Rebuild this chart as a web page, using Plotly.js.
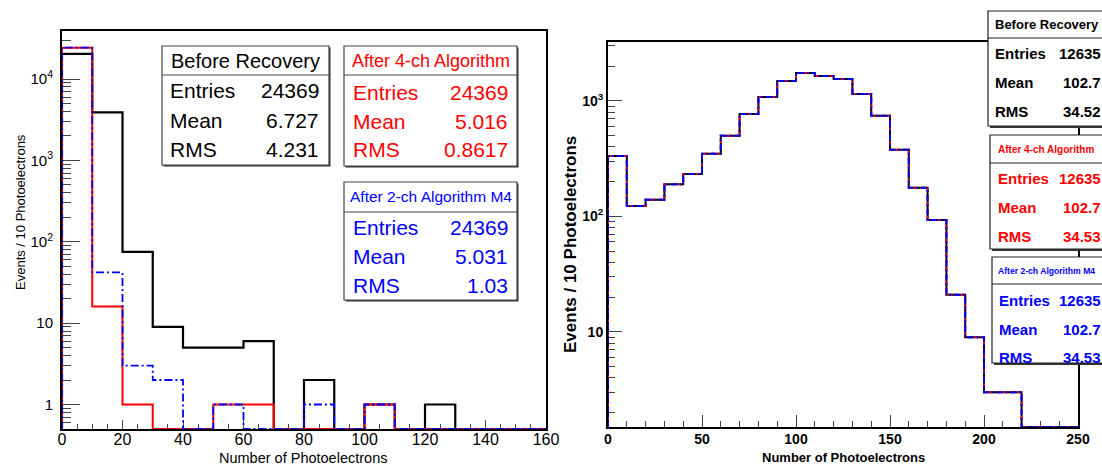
<!DOCTYPE html>
<html><head><meta charset="utf-8">
<script src="https://cdn.plot.ly/plotly-3.0.1.min.js"></script>
<style>html,body{margin:0;padding:0;background:#fff}</style>
</head><body><div id="chart" style="width:1102px;height:465px"></div>
<script>
// ---------- data ----------
const leftEdges = [0,10,20,30,40,50,60,70,80,90,100,110,120,130,140,150,160];
const leftBefore = [20360,3900,75,9,5,5,6,0,2,0,1,0,1,0,0,0];
const left4ch    = [24349,16,1,0,0,1,1,0,0,0,1,0,0,0,0,0];
const left2chM4  = [24319,42,3,2,0,1,0,0,1,0,1,0,0,0,0,0];

const rightEdges = [0,10,20,30,40,50,60,70,80,90,100,110,120,130,140,150,160,170,180,190,200,210,220,230,240,250];
const rightBefore = [334,123,139,190,233,348,498,771,1083,1490,1747,1645,1550,1150,742,377,177,93,21,9,3,3,0,0,0];
const right4ch    = [334,123,139,190,233,348,498,771,1083,1490,1747,1645,1550,1150,742,377,177,93,21,9,3,3,0,0,0];
const right2chM4  = [334,123,139,190,233,348,498,771,1083,1490,1747,1645,1550,1150,742,377,177,93,21,9,3,3,0,0,0];

const leftXTicks = [0,20,40,60,80,100,120,140,160];
const leftYTickVals = [1,10,100,1000,10000];
const leftYTickText = ['1','10','10<sup>2</sup>','10<sup>3</sup>','10<sup>4</sup>'];
const rightXTicks = [0,50,100,150,200,250];
const rightYTickVals = [10,100,1000];
const rightYTickText = ['10','10<sup>2</sup>','10<sup>3</sup>'];

const statLabels = ['Entries','Mean','RMS'];
const leftStatTitles = ['Before Recovery','After 4-ch Algorithm','After 2-ch Algorithm M4'];
const leftStatValues = [['24369','6.727','4.231'],['24369','5.016','0.8617'],['24369','5.031','1.03']];
const rightStatTitles = ['Before Recovery','After 4-ch Algorithm','After 2-ch Algorithm M4'];
const rightStatValues = [['12635','102.7','34.52'],['12635','102.7','34.53'],['12635','102.7','34.53']];

const xTitle = 'Number of Photoelectrons';
const yTitle = 'Events / 10 Photoelectrons';

// ---------- helpers ----------
const W = 1102, H = 465;
const fx = x => x / W;
const fy = y => 1 - y / H;
const FONT = 'Liberation Sans, Arial, Helvetica, sans-serif';
const RED = '#ff0000', BLUE = '#0000ff', BLACK = '#000000';

const leftRange = [Math.log10(0.5), Math.log10(39000)];
const rightRange = [Math.log10(1.5), 3.51];
const leftFloor = Math.pow(10, leftRange[0]);
const rightFloor = Math.pow(10, rightRange[0]);

function stepTrace(edges, vals, floor, xa, ya, color, width, dash) {
  const ys = vals.map(v => v > 0 ? v : floor);
  return {
    type: 'scatter', mode: 'lines', xaxis: xa, yaxis: ya,
    x: [edges[0]].concat(edges),
    y: [floor].concat(ys).concat([floor]),
    line: {shape: 'hv', color: color, width: width, dash: dash},
    hoverinfo: 'skip'
  };
}

function minorLog(lo, hi) {
  const out = [];
  for (let d = lo; d <= hi; d++) for (let k = 2; k <= 9; k++) out.push(k * Math.pow(10, d));
  return out;
}

const traces = [
  stepTrace(leftEdges, leftBefore, leftFloor, 'x', 'y', BLACK, 2.2, 'solid'),
  stepTrace(leftEdges, left4ch, leftFloor, 'x', 'y', RED, 2, 'solid'),
  stepTrace(leftEdges, left2chM4, leftFloor, 'x', 'y', BLUE, 1.8, '8px,3px,2px,3px'),
  stepTrace(rightEdges, rightBefore, rightFloor, 'x2', 'y2', BLACK, 2, 'solid'),
  stepTrace(rightEdges, right4ch, rightFloor, 'x2', 'y2', RED, 2, '4px,3px'),
  stepTrace(rightEdges, right2chM4, rightFloor, 'x2', 'y2', BLUE, 2, '6px,3px,2px,3px')
];

const axisCommon = {
  showline: true, linecolor: BLACK, linewidth: 2, mirror: true,
  showgrid: false, zeroline: false, ticks: 'inside', tickcolor: '#444', tickwidth: 1,
  layer: 'below traces', fixedrange: true
};

const layout = {
  width: W, height: H, margin: {l: 0, r: 0, t: 0, b: 0},
  paper_bgcolor: '#fff', plot_bgcolor: '#fff', showlegend: false,
  font: {family: FONT, color: BLACK},
  xaxis: Object.assign({}, axisCommon, {
    domain: [fx(62), fx(546)], range: [0, 160], anchor: 'y',
    tickmode: 'array', tickvals: leftXTicks, ticklen: 9, ticklabelstandoff: -5,
    tickfont: {family: FONT, size: 16, color: BLACK},
    minor: {ticks: 'inside', dtick: 5, tick0: 0, ticklen: 5, tickcolor: '#444', tickwidth: 1}
  }),
  yaxis: Object.assign({}, axisCommon, {
    type: 'log', domain: [fy(429), fy(31)], range: leftRange, anchor: 'x',
    tickmode: 'array', tickvals: leftYTickVals, ticktext: leftYTickText, ticklen: 18, ticklabelstandoff: 4,
    tickfont: {family: FONT, size: 15, color: BLACK},
    minor: {ticks: 'inside', tickmode: 'array', tickvals: minorLog(-1, 4), ticklen: 9, tickcolor: '#444', tickwidth: 1}
  }),
  xaxis2: Object.assign({}, axisCommon, {
    domain: [fx(608), fx(1078)], range: [0, 250], anchor: 'y2',
    tickmode: 'array', tickvals: rightXTicks, ticklen: 12, ticklabelstandoff: -2,
    tickfont: {family: FONT, size: 14, color: BLACK, weight: 'bold'},
    minor: {ticks: 'inside', dtick: 10, tick0: 0, ticklen: 6, tickcolor: '#444', tickwidth: 1}
  }),
  yaxis2: Object.assign({}, axisCommon, {
    type: 'log', domain: [fy(427), fy(42)], range: rightRange, anchor: 'x2',
    tickmode: 'array', tickvals: rightYTickVals, ticktext: rightYTickText, ticklen: 14,
    tickfont: {family: FONT, size: 14, color: BLACK, weight: 'bold'},
    minor: {ticks: 'inside', tickmode: 'array', tickvals: minorLog(0, 3), ticklen: 7, tickcolor: '#444', tickwidth: 1}
  }),
  shapes: [], annotations: []
};

function addBox(x0, y0, x1, y1, yLine, borderColor, bw, shadow) {
  layout.shapes.push({type: 'rect', xref: 'paper', yref: 'paper', layer: 'above',
    x0: fx(x0 + shadow), x1: fx(x1 + shadow), y0: fy(y1 + shadow), y1: fy(y0 + shadow),
    fillcolor: '#333', line: {width: 0}});
  layout.shapes.push({type: 'rect', xref: 'paper', yref: 'paper', layer: 'above',
    x0: fx(x0), x1: fx(x1), y0: fy(y1), y1: fy(y0),
    fillcolor: '#fff', line: {color: borderColor, width: bw}});
  layout.shapes.push({type: 'line', xref: 'paper', yref: 'paper', layer: 'above',
    x0: fx(x0), x1: fx(x1), y0: fy(yLine), y1: fy(yLine),
    line: {color: borderColor, width: bw}});
}
function addText(text, x, y, xanchor, size, color, bold, angle) {
  layout.annotations.push({text: text, xref: 'paper', yref: 'paper', x: fx(x), y: fy(y),
    xanchor: xanchor, yanchor: 'middle', showarrow: false, textangle: angle || 0,
    font: {family: FONT, size: size, color: color, weight: bold ? 'bold' : 'normal'}});
}

// left stat boxes
const leftBoxes = [
  {b: [162, 46, 329, 165, 75], hx: 245.5, hy: 60.5, hs: 20, c: BLACK, rows: [90, 120, 149], lx: 168, vx: 321},
  {b: [344, 46, 517, 166, 75], hx: 430.5, hy: 61, hs: 18, c: RED, rows: [92, 121, 150], lx: 351, vx: 510},
  {b: [344, 182, 517, 300, 212], hx: 430.5, hy: 196, hs: 15.5, c: BLUE, rows: [227, 256, 285], lx: 351, vx: 510}
];
leftBoxes.forEach((bx, i) => {
  addBox(bx.b[0], bx.b[1], bx.b[2], bx.b[3], bx.b[4], '#444', 1.2, 1.5);
  addText(leftStatTitles[i], bx.hx, bx.hy, 'center', bx.hs, bx.c, false);
  statLabels.forEach((lab, j) => {
    addText(lab, bx.lx, bx.rows[j], 'left', 21, bx.c, false);
    addText(leftStatValues[i][j], bx.vx, bx.rows[j], 'right', 21, bx.c, false);
  });
});

// right stat boxes
const rightBoxes = [
  {b: [988, 11, 1120, 126, 38], hx: 993, hy: 24.5, hs: 13, c: BLACK, rows: [54, 83, 111], lx: 993},
  {b: [990, 135, 1120, 249, 163], hx: 996, hy: 149, hs: 10, c: RED, rows: [178, 208, 237], lx: 996},
  {b: [992, 257, 1120, 363, 284], hx: 996, hy: 271, hs: 8.6, c: BLUE, rows: [300, 329, 357], lx: 997}
];
rightBoxes.forEach((bx, i) => {
  addBox(bx.b[0], bx.b[1], bx.b[2], bx.b[3], bx.b[4], '#222', 1.2, 2);
  addText(rightStatTitles[i], bx.hx, bx.hy, 'left', bx.hs, bx.c, true);
  statLabels.forEach((lab, j) => {
    addText(lab, bx.lx, bx.rows[j], 'left', 15, bx.c, true);
    addText(rightStatValues[i][j], 1103, bx.rows[j], 'right', 15, bx.c, true);
  });
});

// axis titles
addText(xTitle, 303, 458, 'center', 14.5, BLACK, false);
addText(yTitle, 20, 212, 'center', 13, BLACK, false, -90);
addText(xTitle, 843, 457, 'center', 13, BLACK, true);
addText(yTitle, 570, 245, 'center', 17, BLACK, true, -90);

Plotly.newPlot('chart', traces, layout, {staticPlot: true, displayModeBar: false});
</script>
</body></html>
